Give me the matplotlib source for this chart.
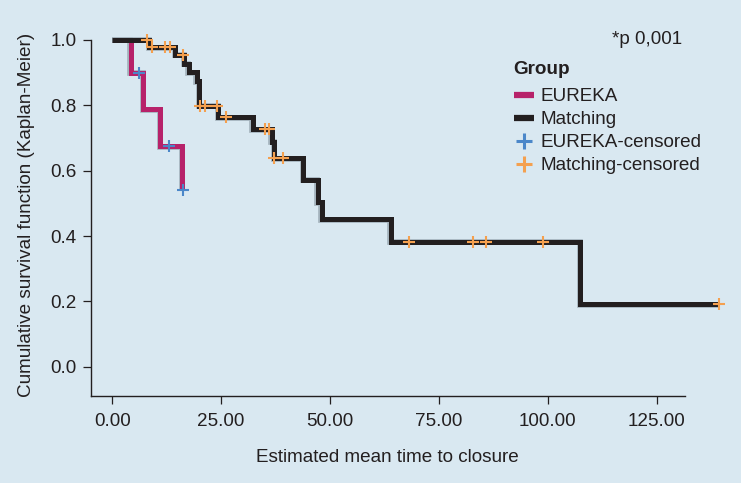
import numpy as np
import matplotlib
matplotlib.use("Agg")
import matplotlib.pyplot as plt
from matplotlib.lines import Line2D
import matplotlib.patheffects as pe

# ---------------- data ----------------
eureka_times = [0, 4.2, 7.1, 10.95, 16.1]
eureka_surv = [1.0, 0.9, 0.7875, 0.675, 0.54]
eureka_censored = [6.1, 13.1, 16.2]

matching_times = [0, 8.5, 14.4, 16.5, 17.5, 19.4, 20.0, 24.3, 32.2, 36.6, 37.2,
                  43.9, 47.2, 48.1, 63.9, 107.4, 139.4]
matching_surv = [1.0, 0.978, 0.955, 0.927, 0.901, 0.874, 0.798, 0.764, 0.727,
                 0.689, 0.638, 0.572, 0.503, 0.451, 0.382, 0.191, 0.191]
matching_censored = [8.0, 9.2, 12.2, 13.2, 16.3, 20.1, 21.2, 24.1, 26.1, 35.0,
                     36.0, 37.2, 39.1, 68.2, 82.9, 85.8, 99.0, 139.4]

x_ticks = [0, 25, 50, 75, 100, 125]
x_ticklabels = ["0.00", "25.00", "50.00", "75.00", "100.00", "125.00"]
y_ticks = [0.0, 0.2, 0.4, 0.6, 0.8, 1.0]
y_ticklabels = ["0.0", "0.2", "0.4", "0.6", "0.8", "1.0"]

series_names = ["EUREKA", "Matching", "EUREKA-censored", "Matching-censored"]

# ---------------- style ----------------
BG = "#d9e8f1"
TXT = "#231f20"
C_EUREKA = "#b7226a"
C_MATCH = "#231f20"
C_EUREKA_CENS = "#4b87c9"
C_MATCH_CENS = "#f4a04f"

plt.rcParams["font.family"] = ["Liberation Sans", "DejaVu Sans"]
FS = 13.6

W, H = 741, 483
fig = plt.figure(figsize=(W / 100, H / 100), dpi=100, facecolor=BG)

# axes placement (pixel based)
xlo, xhi = -4.96, 140.5
ylo, yhi = -0.0897, 1.03
px_per_x = 4.355
px_per_y = 326.7
left_px = 90.7
bottom_px = 396.0
width_px = (xhi - xlo) * px_per_x
height_px = (yhi - ylo) * px_per_y
ax = fig.add_axes([left_px / W, (H - bottom_px) / H, width_px / W, height_px / H])
ax.set_facecolor(BG)
ax.set_xlim(xlo, xhi)
ax.set_ylim(ylo, yhi)

for s in ["top", "right"]:
    ax.spines[s].set_visible(False)
ax.spines["left"].set_bounds(ylo, 1.0)
ax.spines["bottom"].set_bounds(xlo, 131.6)
for s in ["left", "bottom"]:
    ax.spines[s].set_color(TXT)
    ax.spines[s].set_linewidth(1.0)

ax.set_xticks(x_ticks)
ax.set_xticklabels(x_ticklabels)
ax.set_yticks(y_ticks)
ax.set_yticklabels(y_ticklabels)
ax.tick_params(axis="both", direction="out", length=6, width=0.9, color=TXT,
               labelcolor=TXT, labelsize=FS)
ax.tick_params(axis="x", pad=6.5)
ax.tick_params(axis="y", pad=4)


def step_value(times, surv, t):
    idx = np.searchsorted(np.asarray(times), t, side="right") - 1
    return np.asarray(surv)[idx]


lw = 3.6
shadow = [pe.Stroke(linewidth=lw + 0.5, foreground="#a3b2bc", offset=(-0.35, -0.35)),
          pe.Normal()]
ax.step(eureka_times, eureka_surv, where="post", color=C_EUREKA, lw=lw,
        solid_joinstyle="miter", solid_capstyle="butt", zorder=2,
        path_effects=shadow)
ax.step(matching_times, matching_surv, where="post", color=C_MATCH, lw=lw,
        solid_joinstyle="miter", solid_capstyle="butt", zorder=3,
        path_effects=shadow)

ec = np.array(eureka_censored)
mc = np.array(matching_censored)
ax.plot(ec, step_value(eureka_times, eureka_surv, ec), ls="none", marker="+",
        ms=8.5, mew=1.5, color=C_EUREKA_CENS, zorder=4)
ax.plot(mc, step_value(matching_times, matching_surv, mc), ls="none", marker="+",
        ms=8.5, mew=1.5, color=C_MATCH_CENS, zorder=4)

# labels
fig.text(387.5 / W, (H - 457) / H, "Estimated mean time to closure", ha="center",
         va="center", fontsize=FS, color=TXT)
fig.text(27 / W, (H - 215) / H, "Cumulative survival function (Kaplan-Meier)",
         ha="center", va="center", rotation=90, fontsize=FS, color=TXT)
fig.text(682 / W, (H - 39) / H, "*p 0,001", ha="right", va="center",
         fontsize=FS, color=TXT)

# legend
fig.text(513 / W, (H - 69) / H, "Group", ha="left", va="center", fontsize=FS,
         fontweight="bold", color=TXT)
handles = [
    Line2D([], [], color=C_EUREKA, lw=4.5, solid_capstyle="butt"),
    Line2D([], [], color=C_MATCH, lw=4.5, solid_capstyle="butt"),
    Line2D([], [], color=C_EUREKA_CENS, ls="none", marker="+", ms=12, mew=2.2),
    Line2D([], [], color=C_MATCH_CENS, ls="none", marker="+", ms=12, mew=2.2),
]
leg = fig.legend(handles, series_names, loc="upper left",
                 bbox_to_anchor=(514 / W, (H - 88) / H), frameon=False,
                 fontsize=FS, handlelength=1.05,
                 handletextpad=0.33, labelspacing=0.31, borderpad=0,
                 borderaxespad=0)
for t in leg.get_texts():
    t.set_color(TXT)

fig.savefig("out.png", dpi=100, facecolor=BG)
